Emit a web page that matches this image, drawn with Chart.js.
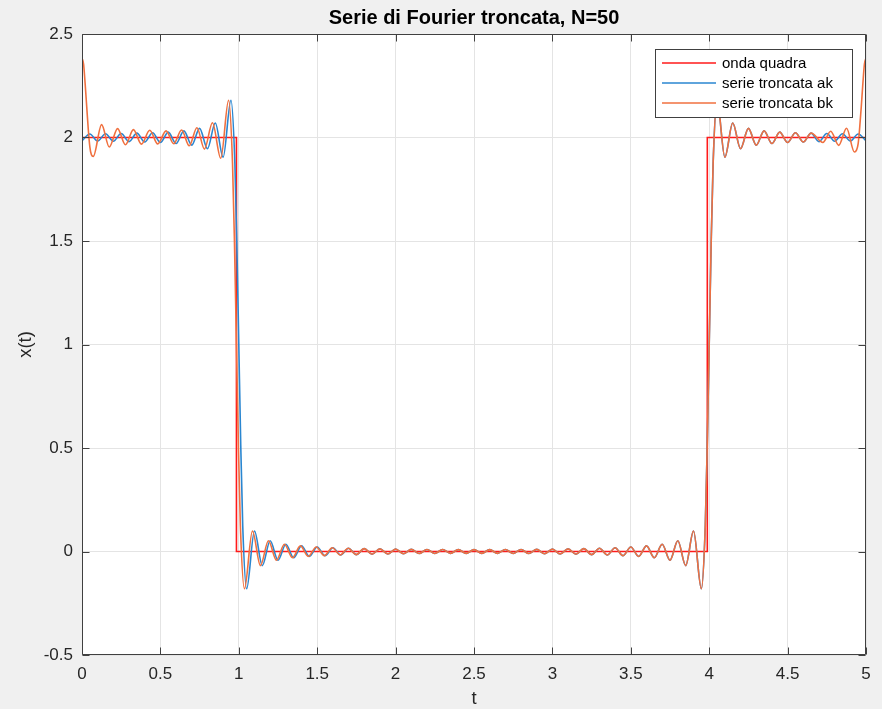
<!DOCTYPE html>
<html><head><meta charset="utf-8">
<script src="https://cdn.jsdelivr.net/npm/chart.js@4.4.1/dist/chart.umd.min.js"></script>
<style>html,body{margin:0;padding:0;background:#f0f0f0;}canvas{display:block;}</style>
</head><body>
<canvas id="c" width="882" height="709"></canvas>
<script>
const FONT = "'Liberation Sans', Arial, Helvetica, sans-serif";
const titleText = 'Serie di Fourier troncata, N=50';
const xLabel = 't';
const yLabel = 'x(t)';
const seriesNames = ['onda quadra', 'serie troncata ak', 'serie troncata bk'];
const seriesColors = ['#ff1a1a', '#2a86d0', '#f0703f'];
const xTickLabels = ['0','0.5','1','1.5','2','2.5','3','3.5','4','4.5','5'];
const yTickLabels = ['-0.5','0','0.5','1','1.5','2','2.5'];

// onda quadra
const squareT = [0, 0.985, 0.985, 3.988, 3.988, 5];
const squareY = [2, 2, 0, 0, 2, 2];

// serie troncata ak (left part, 0 .. 1.75)
const akLeftT = [0,0.05,0.10,0.15,0.20,0.25,0.30,0.35,0.40,0.45,0.50,0.55,0.60,0.65,0.70,0.75,0.80,0.85,0.90,0.95,
  0.975,0.9875,1.0,1.0125,1.025,
  1.05,1.10,1.15,1.20,1.25,1.30,1.35,1.40,1.45,1.50,1.55,1.60,1.65,1.70,1.75];
const akLeftY = [1.984,2.017,1.983,2.018,1.982,2.019,1.980,2.021,1.978,2.023,1.976,2.026,1.971,2.032,1.963,2.044,1.946,2.070,1.905,2.180,
  1.874,1.488,1.0,0.512,0.126,
  -0.180,0.099,-0.068,0.052,-0.042,0.035,-0.030,0.027,-0.024,0.022,-0.020,0.018,-0.017,0.016,-0.015];

// common middle part of both truncated series (1.80 .. 4.65)
const midT = [1.80,1.85,1.90,1.95,2.00,2.05,2.10,2.15,2.20,2.25,2.30,2.35,2.40,2.45,2.50,
  2.55,2.60,2.65,2.70,2.75,2.80,2.85,2.90,2.95,3.00,3.05,3.10,3.15,3.20,3.25,3.30,3.35,3.40,3.45,3.50,
  3.55,3.60,3.65,3.70,3.75,3.80,3.85,3.90,3.95,
  3.975,3.9875,4.0,4.0125,4.025,
  4.05,4.10,4.15,4.20,4.25,4.30,4.35,4.40,4.45,4.50,4.55,4.60,4.65];
const midY = [0.014,-0.013,0.0125,-0.012,0.0115,-0.011,0.0105,-0.010,0.010,-0.0095,0.0095,-0.009,0.009,-0.009,0.009,
  -0.009,0.009,-0.009,0.0095,-0.0095,0.010,-0.010,0.0105,-0.011,0.0115,-0.012,0.0125,-0.013,0.014,-0.015,0.016,-0.017,0.018,-0.020,0.022,
  -0.024,0.027,-0.030,0.035,-0.042,0.052,-0.068,0.099,-0.180,
  0.126,0.512,1.0,1.488,1.874,
  2.180,1.905,2.070,1.946,2.044,1.963,2.032,1.971,2.026,1.976,2.023,1.978,2.021];

// serie troncata ak (right part)
const akRightT = [4.70,4.75,4.80,4.85,4.90,4.95,5.00];
const akRightY = [1.980,2.019,1.982,2.018,1.983,2.017,1.984];

// serie troncata bk (left part)
const bkLeftT = [0,0.01,0.02,0.03,0.04,0.05,0.06,0.072,0.125,0.174,0.227,0.277,0.328,0.379,0.432,0.483,0.536,0.585,0.635,0.684,0.733,0.781,0.832,0.885,0.935,
  0.96,0.9725,0.985,0.9975,1.01,
  1.036,1.087,1.138,1.189,1.240,1.291,1.342,1.393,1.443,1.494,1.545,1.596,1.647,1.698,1.749];
const bkLeftY = [2.384,2.355,2.26,2.15,2.04,1.955,1.917,1.909,2.062,1.954,2.043,1.965,2.038,1.968,2.035,1.969,2.032,1.970,2.036,1.960,2.047,1.944,2.071,1.900,2.180,
  1.874,1.488,1.0,0.512,0.126,
  -0.180,0.099,-0.068,0.052,-0.042,0.035,-0.030,0.027,-0.024,0.022,-0.020,0.018,-0.017,0.016,-0.015];

// serie troncata bk (right part)
const bkRightT = [4.725,4.775,4.826,4.876,4.926,4.94,4.95,4.96,4.97,4.98,4.99,5.0];
const bkRightY = [1.976,2.030,1.962,2.045,1.930,1.94,1.97,2.05,2.15,2.26,2.355,2.384];

function pts(ts, ys) { return ts.map((t, i) => ({x: t, y: ys[i]})); }
const squareData = pts(squareT, squareY);
const akData = pts(akLeftT, akLeftY).concat(pts(midT, midY), pts(akRightT, akRightY));
const bkData = pts(bkLeftT, bkLeftY).concat(pts(midT, midY), pts(bkRightT, bkRightY));

const bgPlugin = {
  id: 'bg',
  beforeDraw(chart) {
    const {ctx, chartArea: a} = chart;
    ctx.save();
    ctx.fillStyle = '#f0f0f0';
    ctx.fillRect(0, 0, chart.width, chart.height);
    ctx.fillStyle = '#ffffff';
    ctx.fillRect(a.left, a.top, a.right - a.left, a.bottom - a.top);
    ctx.restore();
  }
};

const framePlugin = {
  id: 'frame',
  afterDraw(chart) {
    const {ctx, chartArea: a, scales} = chart;
    const L = Math.round(a.left) + 0.5, R = Math.round(a.right) - 0.5;
    const T = Math.round(a.top) + 0.5, B = Math.round(a.bottom) - 0.5;
    ctx.save();
    ctx.strokeStyle = '#404040';
    ctx.lineWidth = 1;
    ctx.beginPath();
    ctx.rect(L, T, R - L, B - T);
    const tl = 7;
    scales.x.ticks.forEach(tk => {
      const px = Math.round(scales.x.getPixelForValue(tk.value)) + 0.5;
      ctx.moveTo(px, B); ctx.lineTo(px, B - tl);
      ctx.moveTo(px, T); ctx.lineTo(px, T + tl);
    });
    scales.y.ticks.forEach(tk => {
      const py = Math.round(scales.y.getPixelForValue(tk.value)) + 0.5;
      ctx.moveTo(L, py); ctx.lineTo(L + tl, py);
      ctx.moveTo(R, py); ctx.lineTo(R - tl, py);
    });
    ctx.stroke();

    // legend
    const lx = 655.5, ly = 49.5, lw = 197, lh = 68;
    ctx.fillStyle = '#ffffff';
    ctx.fillRect(lx, ly, lw, lh);
    ctx.strokeStyle = '#404040';
    ctx.strokeRect(lx, ly, lw, lh);
    ctx.font = '15px ' + FONT;
    ctx.textBaseline = 'middle';
    ctx.textAlign = 'left';
    seriesNames.forEach((name, i) => {
      const y = 63 + i * 20;
      ctx.strokeStyle = seriesColors[i];
      ctx.lineWidth = 1.5;
      ctx.beginPath();
      ctx.moveTo(662, y); ctx.lineTo(716, y);
      ctx.stroke();
      ctx.fillStyle = '#000000';
      ctx.fillText(name, 722, y + 0.5);
    });
    ctx.restore();
  }
};

const lineCommon = {pointRadius: 0, pointHoverRadius: 0, borderWidth: 1.6, fill: false};

new Chart(document.getElementById('c'), {
  type: 'line',
  data: {
    datasets: [
      Object.assign({label: seriesNames[0], data: squareData, borderColor: seriesColors[0], tension: 0, order: 3}, lineCommon),
      Object.assign({label: seriesNames[1], data: akData, borderColor: seriesColors[1], cubicInterpolationMode: 'monotone', order: 2}, lineCommon),
      Object.assign({label: seriesNames[2], data: bkData, borderColor: seriesColors[2], cubicInterpolationMode: 'monotone', order: 1}, lineCommon)
    ]
  },
  options: {
    responsive: false,
    animation: false,
    devicePixelRatio: 1,
    events: [],
    layout: {padding: {left: 0, right: 16, top: 0, bottom: 0}},
    plugins: {
      legend: {display: false},
      tooltip: {enabled: false},
      title: {
        display: true, text: titleText, fullSize: false, color: '#000000',
        font: {family: FONT, size: 20, weight: 'bold', lineHeight: 1.2},
        padding: {top: 6, bottom: 4}
      }
    },
    scales: {
      x: {
        type: 'linear', min: 0, max: 5,
        afterFit: s => { s.height = 54; },
        ticks: {
          stepSize: 0.5, autoSkip: false, maxRotation: 0,
          callback: (v, i) => xTickLabels[i],
          font: {family: FONT, size: 17}, color: '#262626', padding: 9
        },
        grid: {color: '#e4e4e4', drawTicks: false},
        border: {display: false},
        title: {display: true, text: xLabel, color: '#262626',
          font: {family: FONT, size: 18.5, lineHeight: 1}, padding: {top: 0, bottom: 1}}
      },
      y: {
        type: 'linear', min: -0.5, max: 2.5,
        afterFit: s => { s.width = 82; },
        ticks: {
          stepSize: 0.5, autoSkip: false,
          callback: (v, i) => yTickLabels[i],
          font: {family: FONT, size: 17}, color: '#262626', padding: 9
        },
        grid: {color: '#e4e4e4', drawTicks: false},
        border: {display: false},
        title: {display: true, text: yLabel, color: '#262626',
          font: {family: FONT, size: 18.5, lineHeight: 1}, padding: {top: 17, bottom: 0}}
      }
    }
  },
  plugins: [bgPlugin, framePlugin]
});
</script>
</body></html>
